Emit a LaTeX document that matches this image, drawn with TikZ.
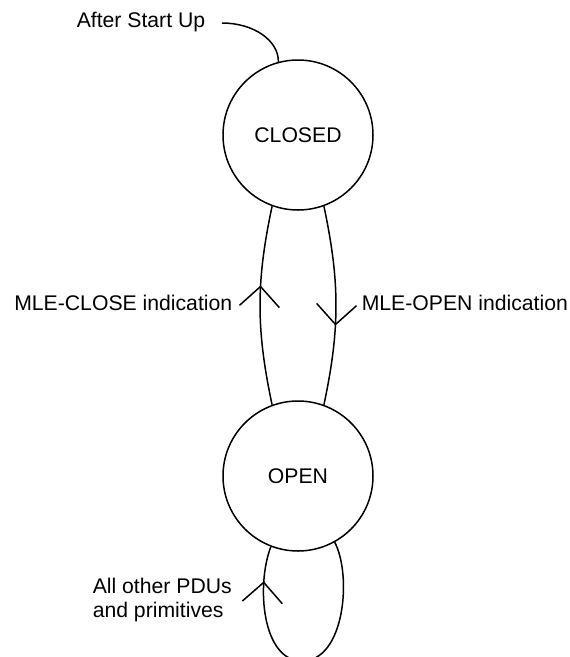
\documentclass[tikz,border=0pt]{standalone}
\usepackage{fontspec}
\setmainfont{Liberation Sans}
\usetikzlibrary{arrows.meta,decorations.markings}

\begin{document}
\begin{tikzpicture}[x=1pt,y=1pt,line width=1.5pt,
        every node/.style={font=\fontsize{21.2}{24}\selectfont},
        state/.style={circle,draw,minimum size=150pt,inner sep=0pt},
        label text/.style={inner sep=0pt},
        barb at/.style={postaction={decorate},
            decoration={markings,mark=at position #1 with {\arrow{Straight Barb[length=20pt,width=40pt]}}}}]
    \useasboundingbox (0,0) rectangle (570,-657);
    \node[state] (closed) at (298,-135) {CLOSED};
    \node[state] (open) at (298,-476) {OPEN};
    \node[label text,anchor=base west] (startup) at (76,-27.5) {After Start Up};
    \node[label text,anchor=base east] (closelbl) at (233,-310) {MLE-CLOSE indication};
    \node[label text,anchor=base west] (openlbl) at (361,-310) {MLE-OPEN indication};
    \node[label text,anchor=north west,align=left] (otherlbl) at (92,-577.8) {All other PDUs\\and primitives};
    \coordinate (init) at (222,-23);
    \coordinate (loopend) at (302,-661);
    \draw (init) .. controls (253,-23) and (278.6,-40) .. (closed.105);
    \draw[barb at=0.6] (open.110) to[bend left=12] (closed.-110);
    \draw[barb at=0.6] (closed.-70) to[bend left=12] (open.70);
    \draw[barb at=0.87] (open.-61) .. controls (352,-575) and (345,-661) .. (loopend)
        .. controls (262,-661) and (256,-585) .. (open.-111);
\end{tikzpicture}
\end{document}
